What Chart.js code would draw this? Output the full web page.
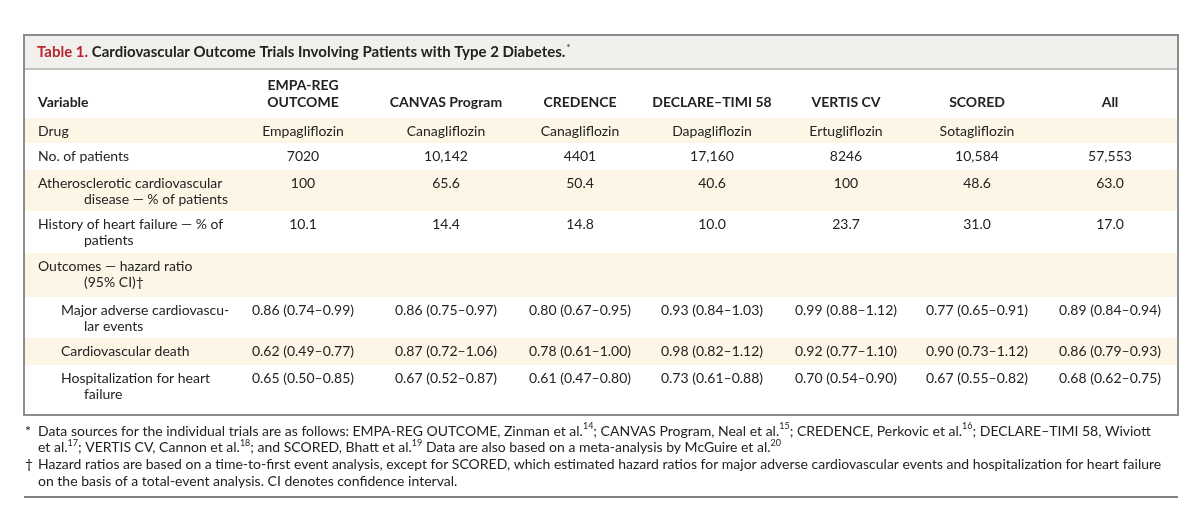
<!DOCTYPE html>
<html>
<head>
<meta charset="utf-8">
<script src="https://cdn.jsdelivr.net/npm/chart.js@4/dist/chart.umd.min.js"></script>
<style>
  html, body { margin: 0; padding: 0; background: #fff; }
  #wrap { width: 1200px; height: 523px; }
</style>
</head>
<body>
<div id="wrap"><canvas id="tbl"></canvas></div>
<script>
// ---- table data ----
const trials = [["EMPA-REG", "OUTCOME"], ["CANVAS Program"], ["CREDENCE"], ["DECLARE\u2013TIMI 58"], ["VERTIS CV"], ["SCORED"], ["All"]];
const drugs = ["Empagliflozin", "Canagliflozin", "Canagliflozin", "Dapagliflozin", "Ertugliflozin", "Sotagliflozin", ""];
const patients = ["7020", "10,142", "4401", "17,160", "8246", "10,584", "57,553"];
const ascvd = ["100", "65.6", "50.4", "40.6", "100", "48.6", "63.0"];
const heartFailure = ["10.1", "14.4", "14.8", "10.0", "23.7", "31.0", "17.0"];
const mace = ["0.86 (0.74\u20130.99)", "0.86 (0.75\u20130.97)", "0.80 (0.67\u20130.95)", "0.93 (0.84\u20131.03)", "0.99 (0.88\u20131.12)", "0.77 (0.65\u20130.91)", "0.89 (0.84\u20130.94)"];
const cvDeath = ["0.62 (0.49\u20130.77)", "0.87 (0.72\u20131.06)", "0.78 (0.61\u20131.00)", "0.98 (0.82\u20131.12)", "0.92 (0.77\u20131.10)", "0.90 (0.73\u20131.12)", "0.86 (0.79\u20130.93)"];
const hospHF = ["0.65 (0.50\u20130.85)", "0.67 (0.52\u20130.87)", "0.61 (0.47\u20130.80)", "0.73 (0.61\u20130.88)", "0.70 (0.54\u20130.90)", "0.67 (0.55\u20130.82)", "0.68 (0.62\u20130.75)"];

const rows = [
  { label: ["Drug"], values: drugs },
  { label: ["No. of patients"], values: patients },
  { label: ["Atherosclerotic cardiovascular", "disease \u2014 % of patients"], values: ascvd },
  { label: ["History of heart failure \u2014 % of", "patients"], values: heartFailure },
  { label: ["Outcomes \u2014 hazard ratio", "(95% CI)\u2020"], values: null },
  { label: ["Major adverse cardiovascu-", "lar events"], values: mace, indent: true },
  { label: ["Cardiovascular death"], values: cvDeath, indent: true },
  { label: ["Hospitalization for heart", "failure"], values: hospHF, indent: true }
];

const footnotes = [
  ["* ", "Data sources for the individual trials are as follows: EMPA-REG OUTCOME, Zinman et al.", "^14", "; CANVAS Program, Neal et al.", "^15", "; CREDENCE, Perkovic et al.", "^16", "; DECLARE\u2013TIMI 58, Wiviott"],
  ["", "et al.", "^17", "; VERTIS CV, Cannon et al.", "^18", "; and SCORED, Bhatt et al.", "^19", " Data are also based on a meta-analysis by McGuire et al.", "^20"],
  ["\u2020 ", "Hazard ratios are based on a time-to-first event analysis, except for SCORED, which estimated hazard ratios for major adverse cardiovascular events and hospitalization for heart failure"],
  ["", "on the basis of a total-event analysis. CI denotes confidence interval."]
];

// ---- layout (page coordinates) ----
const colX = [303, 446, 580, 712, 846, 977, 1110];
const rowTop = [118, 143, 170, 211, 253, 297, 338, 365];
const rowBottom = 415;
const FONT = "Lato";

const tablePlugin = {
  id: "tablePlugin",
  afterDraw(chart) {
    const { ctx, scales: { x, y } } = chart;
    const px = v => x.getPixelForValue(v);
    const py = v => y.getPixelForValue(v);
    ctx.save();
    ctx.textBaseline = "middle";

    // title band
    ctx.fillStyle = "#f2f0ec";
    ctx.fillRect(px(24), py(35), px(1178) - px(24), py(69) - py(35));
    ctx.strokeStyle = "#8c8c8c"; ctx.lineWidth = 1;
    ctx.beginPath(); ctx.moveTo(px(24), py(69)); ctx.lineTo(px(1178), py(69)); ctx.stroke();
    ctx.font = "bold 15px " + FONT;
    ctx.textAlign = "left";
    ctx.fillStyle = "#b8262e";
    ctx.fillText("Table 1.", px(37), py(52));
    let w = ctx.measureText("Table 1. ").width;
    ctx.fillStyle = "#222";
    const t = "Cardiovascular Outcome Trials Involving Patients with Type 2 Diabetes.";
    ctx.fillText(t, px(37) + w, py(52));
    w += ctx.measureText(t).width;
    ctx.font = "10px " + FONT;
    ctx.fillText("*", px(37) + w + 1, py(48));

    // shaded rows
    rows.forEach((r, i) => {
      if (i % 2 === 0) {
        const b = i + 1 < rowTop.length ? rowTop[i + 1] : rowBottom;
        ctx.fillStyle = "#fdf6e6";
        ctx.fillRect(px(25), py(rowTop[i]), px(1177) - px(25), py(b) - py(rowTop[i]));
      }
    });

    // header
    ctx.fillStyle = "#222";
    ctx.font = "bold 14px " + FONT;
    ctx.textAlign = "left";
    ctx.fillText("Variable", px(38), py(102));
    ctx.textAlign = "center";
    trials.forEach((lines, c) => {
      const start = 102 - (lines.length - 1) * 17;
      lines.forEach((s, k) => ctx.fillText(s, px(colX[c]), py(start + k * 17)));
    });

    // body
    ctx.font = "14px " + FONT;
    rows.forEach((r, i) => {
      const ty = rowTop[i] + 13;
      const lx = r.indent ? 61 : 38;
      ctx.textAlign = "left";
      r.label.forEach((s, k) => ctx.fillText(s, px(k === 0 ? lx : 84), py(ty + k * 16)));
      if (r.values) {
        ctx.textAlign = "center";
        r.values.forEach((v, c) => ctx.fillText(v, px(colX[c]), py(ty)));
      }
    });

    // frame
    ctx.strokeStyle = "#8c8c8c"; ctx.lineWidth = 2;
    ctx.strokeRect(px(24), py(35), px(1178) - px(24), py(rowBottom) - py(35));

    // footnotes
    ctx.textAlign = "left";
    ctx.fillStyle = "#222";
    footnotes.forEach((segs, i) => {
      const fy = py(431 + i * 16.7);
      let cx = px(38);
      if (segs[0]) { ctx.font = "14px " + FONT; ctx.fillText(segs[0].trim(), px(25), fy); }
      segs.slice(1).forEach(s => {
        if (s.startsWith("^")) {
          ctx.font = "9px " + FONT;
          ctx.fillText(s.slice(1), cx, fy - 5);
          cx += ctx.measureText(s.slice(1)).width;
        } else {
          ctx.font = "14px " + FONT;
          ctx.fillText(s, cx, fy);
          cx += ctx.measureText(s).width;
        }
      });
    });
    ctx.strokeStyle = "#555"; ctx.lineWidth = 1.5;
    ctx.beginPath(); ctx.moveTo(px(24), py(497)); ctx.lineTo(px(1178), py(497)); ctx.stroke();
    ctx.restore();
  }
};

new Chart(document.getElementById("tbl"), {
  type: "scatter",
  data: { datasets: [{ data: [], pointRadius: 0 }] },
  options: {
    responsive: true,
    maintainAspectRatio: false,
    animation: false,
    layout: { padding: 0 },
    plugins: { legend: { display: false }, tooltip: { enabled: false } },
    scales: {
      x: { type: "linear", min: 0, max: 1200, display: false },
      y: { type: "linear", min: 0, max: 523, reverse: true, display: false }
    }
  },
  plugins: [tablePlugin]
});
</script>
</body>
</html>
